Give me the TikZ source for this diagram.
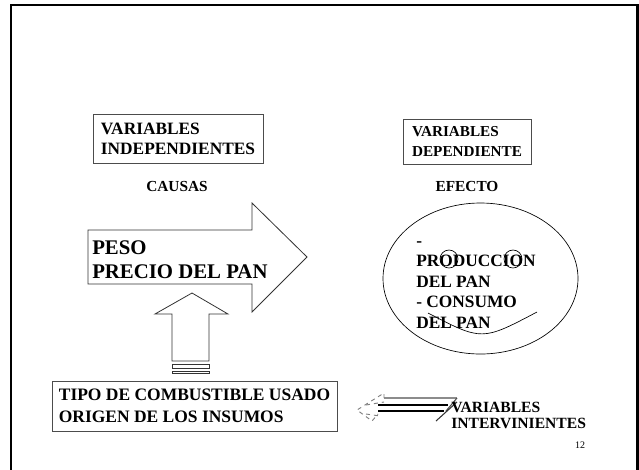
\documentclass[tikz,border=0pt]{standalone}
\usepackage{fontspec}
\setmainfont{Liberation Serif}
\usetikzlibrary{shapes.geometric}
\begin{document}
\begin{tikzpicture}[x=0.75pt,y=-0.75pt,
  lbl/.style={font=\bfseries, inner sep=0pt, align=left},
  boxed/.style={draw=black!70, line width=0.6pt, inner sep=0pt, align=left, font=\bfseries},
  shapeline/.style={draw=black!80, line width=0.6pt}]
\useasboundingbox (0,0) rectangle (639,469);
\clip (0,0) rectangle (639,469);
% frame
\draw[line width=2.2pt] (11,480) -- (11,5) -- (637.5,5) -- (637.5,480);

% top boxes
\node[boxed, minimum width=127.5pt, minimum height=36.75pt,
      font=\fontsize{13}{15}\selectfont\bfseries] (indep) at (178,138.5)
      {VARIABLES\\INDEPENDIENTES};
\node[boxed, minimum width=96pt, minimum height=33.75pt,
      font=\fontsize{11.4}{15}\selectfont\bfseries] (dep) at (467,141.5)
      {VARIABLES\\DEPENDIENTE};
\node[lbl, font=\fontsize{11.5}{13}\selectfont\bfseries] (causas) at (177,186) {CAUSAS};
\node[lbl, font=\fontsize{11.5}{13}\selectfont\bfseries] (efecto) at (467,186) {EFECTO};

% big right arrow
\draw[shapeline, fill=white] (88,230) -- (252,230) -- (252,203) -- (307,257) -- (252,312)
  -- (252,284) -- (88,284) -- cycle;
\node[lbl, anchor=west, font=\fontsize{15.6}{18}\selectfont\bfseries] (peso) at (92,260)
  {PESO\\PRECIO DEL PAN};

% up arrow
\draw[shapeline, fill=white] (172,361) -- (172,314) -- (155,314) -- (192,293) -- (228,314)
  -- (209,314) -- (209,361) -- cycle;
\draw[shapeline] (172,364) rectangle (209,368);
\draw[shapeline] (172,371) rectangle (209,373);

% bottom box
\node[boxed, minimum width=213.75pt, minimum height=37.5pt,
      font=\fontsize{13.1}{16.5}\selectfont\bfseries] (tipo) at (194.5,406)
      {TIPO DE COMBUSTIBLE USADO\\ORIGEN DE LOS INSUMOS};

% ellipse face
\node[draw=black, line width=0.5pt, ellipse, minimum width=146.25pt, minimum height=113.25pt,
      inner sep=0pt] (face) at (480.5,278.5) {};
\node[lbl, anchor=west, font=\fontsize{13}{15.4}\selectfont\bfseries] (efectos) at (416,285)
  {-\\PRODUCCION\\DEL PAN\\- CONSUMO\\DEL PAN};
\draw[line width=0.5pt] (449,259) circle[radius=6.75pt];
\draw[line width=0.5pt] (513,259) circle[radius=6.75pt];
\draw[line width=0.5pt] (428,313) .. controls (482,341) .. (537,312);

% small 3D left arrow
\draw[black!45, line width=1.4pt] (384,398) -- (457,398);
\draw[black, line width=1pt] (378,405) -- (448,405);
\draw[black, line width=1pt] (378,411) -- (444,411);
\draw[black!70, line width=0.8pt] (457,398) -- (446,411);
\draw[black!80, line width=0.8pt] (436,421) -- (457,402);
\draw[black!50, line width=0.7pt, dashed] (384,398) -- (384,393) -- (357,410) -- (372,421) -- (378,414);
\draw[black!50, line width=0.7pt, dashed] (366,405) -- (384,402);
\draw[black!50, line width=0.7pt, dashed] (366,414) -- (380,416);
\node[lbl, anchor=west, font=\fontsize{11.7}{12}\selectfont\bfseries] (interv) at (451,415)
  {VARIABLES\\INTERVINIENTES};
\node[lbl, font=\fontsize{7.5}{9}\selectfont] (num) at (580,445) {12};
\end{tikzpicture}
\end{document}
